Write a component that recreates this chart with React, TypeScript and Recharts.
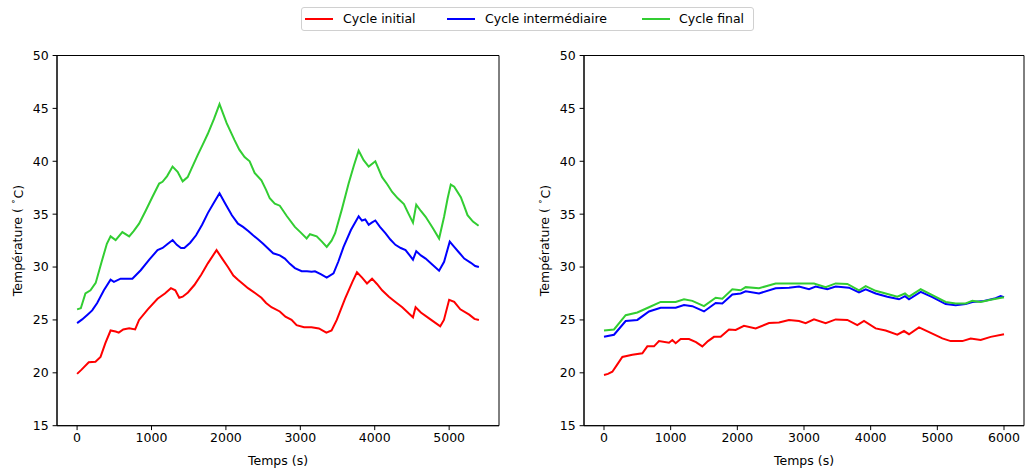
import React from 'react';
import { LineChart, Line, XAxis, YAxis, ReferenceArea } from 'recharts';

// [time (s), temperature (°C)]
const leftInitial: [number, number][] = [
  [0, 19.9], [60, 20.3], [157, 21.0], [247, 21.05], [315, 21.5], [380, 22.8], [450, 24.0], [518, 23.9],
  [560, 23.8], [620, 24.1], [700, 24.2], [780, 24.1], [833, 25.0], [950, 26.0], [1081, 27.0], [1180, 27.5],
  [1261, 28.0], [1320, 27.8], [1373, 27.1], [1419, 27.2], [1490, 27.6], [1576, 28.3], [1670, 29.3], [1757, 30.35],
  [1874, 31.6], [1950, 30.8], [2027, 30.0], [2100, 29.2], [2162, 28.8], [2230, 28.4], [2297, 28.0], [2400, 27.5],
  [2477, 27.1], [2540, 26.6], [2612, 26.2], [2724, 25.8], [2800, 25.3], [2882, 25.0], [2950, 24.5], [3050, 24.3],
  [3150, 24.3], [3250, 24.2], [3350, 23.8], [3420, 24.0], [3490, 25.0], [3600, 27.0], [3700, 28.6], [3761, 29.5],
  [3830, 29.0], [3896, 28.45], [3964, 28.9], [4030, 28.4], [4099, 27.8], [4190, 27.2], [4278, 26.7], [4370, 26.2],
  [4459, 25.6], [4514, 25.25], [4549, 26.2], [4620, 25.7], [4730, 25.15], [4820, 24.7], [4880, 24.4], [4930, 25.0],
  [5000, 26.9], [5068, 26.7], [5150, 26.0], [5270, 25.5], [5340, 25.1], [5400, 25.0],
];

const leftMiddle: [number, number][] = [
  [0, 24.7], [68, 25.05], [140, 25.5], [203, 25.9], [270, 26.6], [360, 27.8], [450, 28.8], [495, 28.6],
  [585, 28.9], [743, 28.9], [855, 29.7], [970, 30.7], [1081, 31.6], [1149, 31.8], [1220, 32.2], [1284, 32.55],
  [1340, 32.1], [1396, 31.8], [1441, 31.8], [1520, 32.3], [1599, 33.0], [1680, 34.0], [1757, 35.1], [1840, 36.1],
  [1914, 36.97], [1990, 36.0], [2080, 34.9], [2162, 34.1], [2230, 33.8], [2300, 33.4], [2365, 33.0], [2435, 32.6],
  [2500, 32.2], [2560, 31.8], [2635, 31.3], [2724, 31.1], [2792, 30.8], [2860, 30.3], [2927, 29.9], [3018, 29.6],
  [3090, 29.6], [3153, 29.55], [3197, 29.6], [3280, 29.3], [3355, 29.0], [3446, 29.4], [3510, 30.5], [3581, 31.9],
  [3680, 33.5], [3784, 34.8], [3828, 34.4], [3873, 34.5], [3919, 34.0], [3960, 34.2], [4008, 34.4], [4070, 33.8],
  [4143, 33.2], [4210, 32.6], [4278, 32.1], [4350, 31.8], [4414, 31.6], [4470, 31.1], [4514, 30.7], [4558, 31.5],
  [4620, 31.1], [4684, 30.8], [4780, 30.2], [4865, 29.65], [4932, 30.5], [5008, 32.4], [5068, 31.9], [5130, 31.4],
  [5203, 30.8], [5292, 30.4], [5350, 30.1], [5400, 30.0],
];

const leftFinal: [number, number][] = [
  [0, 26.0], [50, 26.1], [112, 27.5], [180, 27.8], [250, 28.5], [330, 30.5], [400, 32.2], [450, 32.9],
  [518, 32.55], [608, 33.3], [700, 32.9], [760, 33.4], [833, 34.1], [920, 35.3], [1010, 36.6], [1103, 37.9],
  [1148, 38.06], [1210, 38.6], [1283, 39.5], [1351, 39.0], [1419, 38.1], [1486, 38.5], [1550, 39.5], [1622, 40.6],
  [1690, 41.6], [1757, 42.6], [1840, 44.0], [1914, 45.4], [2010, 43.6], [2116, 42.0], [2180, 41.1], [2251, 40.4],
  [2319, 40.0], [2386, 38.9], [2477, 38.2], [2540, 37.3], [2589, 36.5], [2657, 36.0], [2724, 35.8], [2820, 34.8],
  [2927, 33.8], [3000, 33.3], [3085, 32.7], [3130, 33.1], [3220, 32.9], [3290, 32.4], [3355, 31.9], [3420, 32.5],
  [3468, 33.2], [3560, 35.5], [3649, 37.9], [3720, 39.6], [3784, 41.0], [3851, 40.1], [3919, 39.5], [4008, 40.0],
  [4050, 39.3], [4099, 38.5], [4170, 37.8], [4234, 37.1], [4310, 36.5], [4392, 35.95], [4450, 35.1], [4514, 34.2],
  [4558, 35.9], [4620, 35.3], [4684, 34.75], [4780, 33.7], [4865, 32.7], [4932, 34.75], [4980, 36.5], [5022, 37.8],
  [5068, 37.6], [5157, 36.6], [5200, 35.8], [5247, 34.9], [5320, 34.3], [5396, 33.9],
];

const rightInitial: [number, number][] = [
  [0, 19.8], [60, 19.9], [125, 20.1], [200, 20.8], [275, 21.5], [425, 21.7], [575, 21.85], [650, 22.5],
  [750, 22.5], [825, 23.0], [975, 22.85], [1025, 23.1], [1075, 22.8], [1150, 23.2], [1275, 23.2], [1380, 22.9],
  [1475, 22.5], [1560, 23.0], [1650, 23.4], [1750, 23.4], [1875, 24.1], [1975, 24.05], [2100, 24.45], [2275, 24.2],
  [2475, 24.7], [2625, 24.75], [2775, 25.0], [2925, 24.9], [3025, 24.7], [3150, 25.05], [3325, 24.7], [3475, 25.05],
  [3650, 25.0], [3800, 24.5], [3900, 24.9], [4075, 24.2], [4225, 24.0], [4400, 23.6], [4500, 23.95], [4575, 23.65],
  [4725, 24.3], [4925, 23.7], [5075, 23.25], [5200, 23.0], [5375, 23.0], [5500, 23.25], [5650, 23.1], [5800, 23.4],
  [6000, 23.65],
];

const rightMiddle: [number, number][] = [
  [0, 23.4], [150, 23.6], [325, 24.9], [500, 25.0], [675, 25.8], [850, 26.15], [1075, 26.15], [1200, 26.4],
  [1325, 26.3], [1500, 25.8], [1675, 26.6], [1775, 26.55], [1925, 27.4], [2050, 27.5], [2125, 27.7], [2325, 27.5],
  [2575, 28.0], [2775, 28.05], [2925, 28.15], [3075, 27.9], [3175, 28.15], [3350, 27.9], [3475, 28.15], [3675, 28.05],
  [3825, 27.6], [3925, 27.9], [4075, 27.5], [4250, 27.2], [4425, 26.95], [4515, 27.25], [4575, 26.95], [4750, 27.65],
  [4925, 27.15], [5125, 26.5], [5275, 26.4], [5425, 26.5], [5525, 26.7], [5700, 26.8], [5875, 27.05], [5950, 27.25],
  [6000, 27.15],
];

const rightFinal: [number, number][] = [
  [0, 24.0], [150, 24.1], [325, 25.45], [500, 25.7], [675, 26.2], [850, 26.7], [1075, 26.7], [1200, 26.95],
  [1325, 26.8], [1500, 26.3], [1675, 27.1], [1775, 27.0], [1925, 27.9], [2050, 27.8], [2125, 28.1], [2325, 28.0],
  [2575, 28.45], [2775, 28.45], [2975, 28.45], [3150, 28.45], [3325, 28.1], [3475, 28.45], [3650, 28.4], [3825, 27.8],
  [3925, 28.2], [4075, 27.75], [4225, 27.5], [4400, 27.2], [4515, 27.5], [4575, 27.2], [4750, 27.9], [4925, 27.35],
  [5125, 26.7], [5275, 26.55], [5425, 26.55], [5525, 26.8], [5650, 26.7], [5800, 26.9], [6000, 27.15],
];

const seriesNames = ['Cycle initial', 'Cycle intermédiaire', 'Cycle final'];
const seriesColors = ['#ff0000', '#0000ff', '#32cd32'];
const yTicks = [15, 20, 25, 30, 35, 40, 45, 50];
const leftXTicks = [0, 1000, 2000, 3000, 4000, 5000];
const rightXTicks = [0, 1000, 2000, 3000, 4000, 5000, 6000];

const FONT = '"DejaVu Sans", sans-serif';
const toPts = (arr: [number, number][]) => arr.map(([t, v]) => ({ t, v }));

const YLabel = (props: any) => {
  const vb = props.viewBox;
  const x = vb.x + 18;
  const y = vb.y + vb.height / 2;
  return (
    <text x={x} y={y} transform={`rotate(-90, ${x}, ${y})`} textAnchor="middle" dominantBaseline="central"
      fontSize={12.5} fontFamily={FONT} fill="#000">
      Température ( <tspan fontSize={9} dy={-5}>∘</tspan><tspan dy={5}>C)</tspan>
    </text>
  );
};

const XLabel = (props: any) => {
  const vb = props.viewBox;
  return (
    <text x={vb.x + vb.width / 2} y={vb.y + 39} textAnchor="middle" fontSize={12.5} fontFamily={FONT} fill="#000">
      Temps (s)
    </text>
  );
};

type PanelProps = {
  series: [number, number][][];
  domain: [number, number];
  ticks: number[];
  width: number;
};

const Panel: React.FC<PanelProps> = ({ series, domain, ticks, width }) => (
  <LineChart width={width} height={468} margin={{ top: 55.5, right: 1, bottom: 0, left: 0 }}>
    <XAxis
      dataKey="t"
      type="number"
      domain={domain}
      ticks={ticks}
      allowDataOverflow
      height={42.3}
      tickSize={4.4}
      tickMargin={3}
      tick={{ fontSize: 12.5, fontFamily: FONT, fill: '#000' }}
      stroke="#000"
      label={<XLabel />}
    />
    <YAxis
      type="number"
      domain={[15, 50]}
      ticks={yTicks}
      allowDataOverflow
      width={57}
      tickSize={4.4}
      tickMargin={4}
      tick={{ fontSize: 12.5, fontFamily: FONT, fill: '#000' }}
      stroke="#000"
      label={<YLabel />}
    />
    <ReferenceArea x1={domain[0]} x2={domain[1]} y1={15} y2={50} fill="none" stroke="#000" strokeWidth={1} />
    {series.map((s, i) => (
      <Line
        key={seriesNames[i]}
        data={toPts(s)}
        dataKey="v"
        name={seriesNames[i]}
        type="linear"
        stroke={seriesColors[i]}
        strokeWidth={2}
        dot={false}
        isAnimationActive={false}
      />
    ))}
  </LineChart>
);

const LegendBox = () => {
  const lineX = [305, 447, 642];
  const textX = [343, 485, 679];
  return (
    <div style={{
      position: 'absolute', left: 301, top: 7, width: 453, height: 24, boxSizing: 'border-box',
      border: '1px solid #d0d0d0', borderRadius: 3, background: '#fff',
    }}>
      {seriesNames.map((n, i) => (
        <React.Fragment key={n}>
          <div style={{ position: 'absolute', left: lineX[i] - 302, top: 10, width: 28, height: 2, background: seriesColors[i] }} />
          <div style={{
            position: 'absolute', left: textX[i] - 302, top: 3, fontSize: 12.5, fontFamily: FONT,
            lineHeight: '16px', color: '#000', whiteSpace: 'nowrap',
          }}>{n}</div>
        </React.Fragment>
      ))}
    </div>
  );
};

export default function App() {
  return (
    <div style={{ position: 'absolute', left: 0, top: 0, width: 1025, height: 468, background: '#fff', overflow: 'hidden' }}>
      <div style={{ position: 'absolute', left: 0, top: 0 }}>
        <Panel series={[leftInitial, leftMiddle, leftFinal]} domain={[-270, 5670]} ticks={leftXTicks} width={500} />
      </div>
      <div style={{ position: 'absolute', left: 527, top: 0 }}>
        <Panel series={[rightInitial, rightMiddle, rightFinal]} domain={[-300, 6300]} ticks={rightXTicks} width={498} />
      </div>
      <LegendBox />
    </div>
  );
}
